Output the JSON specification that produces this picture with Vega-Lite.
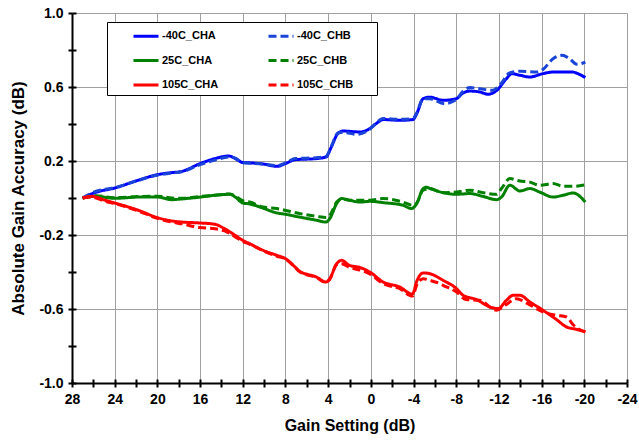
{
  "$schema": "https://vega.github.io/schema/vega-lite/v6.json",
  "width": 555,
  "height": 370,
  "autosize": {"type": "none"},
  "padding": {"left": 72, "top": 13, "right": 12, "bottom": 57},
  "background": "white",
  "config": {"view": {"stroke": null}, "font": "Liberation Sans"},
  "datasets": {
    "curves": [
      {"series": "-40C_CHA", "gain": 27, "accuracy": 0},
      {"series": "-40C_CHA", "gain": 25.8, "accuracy": 0.03},
      {"series": "-40C_CHA", "gain": 24, "accuracy": 0.054},
      {"series": "-40C_CHA", "gain": 21.8, "accuracy": 0.096},
      {"series": "-40C_CHA", "gain": 20, "accuracy": 0.126},
      {"series": "-40C_CHA", "gain": 18.7, "accuracy": 0.137},
      {"series": "-40C_CHA", "gain": 17.7, "accuracy": 0.144},
      {"series": "-40C_CHA", "gain": 16, "accuracy": 0.186},
      {"series": "-40C_CHA", "gain": 14.6, "accuracy": 0.213},
      {"series": "-40C_CHA", "gain": 13.3, "accuracy": 0.227},
      {"series": "-40C_CHA", "gain": 12.7, "accuracy": 0.213},
      {"series": "-40C_CHA", "gain": 12, "accuracy": 0.192},
      {"series": "-40C_CHA", "gain": 11.35, "accuracy": 0.19},
      {"series": "-40C_CHA", "gain": 10.1, "accuracy": 0.184},
      {"series": "-40C_CHA", "gain": 8.8, "accuracy": 0.171},
      {"series": "-40C_CHA", "gain": 8, "accuracy": 0.186},
      {"series": "-40C_CHA", "gain": 7.1, "accuracy": 0.207},
      {"series": "-40C_CHA", "gain": 5.1, "accuracy": 0.213},
      {"series": "-40C_CHA", "gain": 4.2, "accuracy": 0.222},
      {"series": "-40C_CHA", "gain": 3.7, "accuracy": 0.276},
      {"series": "-40C_CHA", "gain": 3.1, "accuracy": 0.348},
      {"series": "-40C_CHA", "gain": 2.6, "accuracy": 0.362},
      {"series": "-40C_CHA", "gain": 1.0, "accuracy": 0.357},
      {"series": "-40C_CHA", "gain": 0.1, "accuracy": 0.375},
      {"series": "-40C_CHA", "gain": -0.5, "accuracy": 0.402},
      {"series": "-40C_CHA", "gain": -1.15, "accuracy": 0.424},
      {"series": "-40C_CHA", "gain": -2.7, "accuracy": 0.42},
      {"series": "-40C_CHA", "gain": -3.95, "accuracy": 0.424},
      {"series": "-40C_CHA", "gain": -4.3, "accuracy": 0.456},
      {"series": "-40C_CHA", "gain": -4.9, "accuracy": 0.537},
      {"series": "-40C_CHA", "gain": -5.5, "accuracy": 0.545},
      {"series": "-40C_CHA", "gain": -6.8, "accuracy": 0.528},
      {"series": "-40C_CHA", "gain": -8.0, "accuracy": 0.537},
      {"series": "-40C_CHA", "gain": -8.65, "accuracy": 0.568},
      {"series": "-40C_CHA", "gain": -9.3, "accuracy": 0.578},
      {"series": "-40C_CHA", "gain": -10.2, "accuracy": 0.573},
      {"series": "-40C_CHA", "gain": -11, "accuracy": 0.561},
      {"series": "-40C_CHA", "gain": -11.8, "accuracy": 0.582},
      {"series": "-40C_CHA", "gain": -12.7, "accuracy": 0.645},
      {"series": "-40C_CHA", "gain": -13.2, "accuracy": 0.672},
      {"series": "-40C_CHA", "gain": -14, "accuracy": 0.663},
      {"series": "-40C_CHA", "gain": -14.9, "accuracy": 0.654},
      {"series": "-40C_CHA", "gain": -16.1, "accuracy": 0.672},
      {"series": "-40C_CHA", "gain": -17.1, "accuracy": 0.681},
      {"series": "-40C_CHA", "gain": -18.9, "accuracy": 0.681},
      {"series": "-40C_CHA", "gain": -19.4, "accuracy": 0.672},
      {"series": "-40C_CHA", "gain": -20.1, "accuracy": 0.651},

      {"series": "-40C_CHB", "gain": 27, "accuracy": 0},
      {"series": "-40C_CHB", "gain": 25.8, "accuracy": 0.035},
      {"series": "-40C_CHB", "gain": 24, "accuracy": 0.056},
      {"series": "-40C_CHB", "gain": 21.8, "accuracy": 0.095},
      {"series": "-40C_CHB", "gain": 20, "accuracy": 0.124},
      {"series": "-40C_CHB", "gain": 18.7, "accuracy": 0.135},
      {"series": "-40C_CHB", "gain": 17.7, "accuracy": 0.142},
      {"series": "-40C_CHB", "gain": 16, "accuracy": 0.18},
      {"series": "-40C_CHB", "gain": 14.6, "accuracy": 0.205},
      {"series": "-40C_CHB", "gain": 13.3, "accuracy": 0.222},
      {"series": "-40C_CHB", "gain": 12.7, "accuracy": 0.215},
      {"series": "-40C_CHB", "gain": 12, "accuracy": 0.19},
      {"series": "-40C_CHB", "gain": 11.35, "accuracy": 0.188},
      {"series": "-40C_CHB", "gain": 10.1, "accuracy": 0.184},
      {"series": "-40C_CHB", "gain": 8.8, "accuracy": 0.175},
      {"series": "-40C_CHB", "gain": 8, "accuracy": 0.19},
      {"series": "-40C_CHB", "gain": 7.1, "accuracy": 0.213},
      {"series": "-40C_CHB", "gain": 5.1, "accuracy": 0.218},
      {"series": "-40C_CHB", "gain": 4.2, "accuracy": 0.225},
      {"series": "-40C_CHB", "gain": 3.7, "accuracy": 0.28},
      {"series": "-40C_CHB", "gain": 3.1, "accuracy": 0.35},
      {"series": "-40C_CHB", "gain": 2.6, "accuracy": 0.355},
      {"series": "-40C_CHB", "gain": 1.3, "accuracy": 0.344},
      {"series": "-40C_CHB", "gain": 0.1, "accuracy": 0.372},
      {"series": "-40C_CHB", "gain": -0.5, "accuracy": 0.405},
      {"series": "-40C_CHB", "gain": -1.15, "accuracy": 0.43},
      {"series": "-40C_CHB", "gain": -2.7, "accuracy": 0.425},
      {"series": "-40C_CHB", "gain": -3.95, "accuracy": 0.43},
      {"series": "-40C_CHB", "gain": -4.3, "accuracy": 0.46},
      {"series": "-40C_CHB", "gain": -4.9, "accuracy": 0.535},
      {"series": "-40C_CHB", "gain": -5.5, "accuracy": 0.537},
      {"series": "-40C_CHB", "gain": -6.9, "accuracy": 0.51},
      {"series": "-40C_CHB", "gain": -8.0, "accuracy": 0.532},
      {"series": "-40C_CHB", "gain": -8.65, "accuracy": 0.578},
      {"series": "-40C_CHB", "gain": -9.3, "accuracy": 0.597},
      {"series": "-40C_CHB", "gain": -10.2, "accuracy": 0.591},
      {"series": "-40C_CHB", "gain": -11.4, "accuracy": 0.582},
      {"series": "-40C_CHB", "gain": -12.2, "accuracy": 0.618},
      {"series": "-40C_CHB", "gain": -13, "accuracy": 0.676},
      {"series": "-40C_CHB", "gain": -14, "accuracy": 0.685},
      {"series": "-40C_CHB", "gain": -15.5, "accuracy": 0.681},
      {"series": "-40C_CHB", "gain": -16.1, "accuracy": 0.694},
      {"series": "-40C_CHB", "gain": -17.1, "accuracy": 0.754},
      {"series": "-40C_CHB", "gain": -17.9, "accuracy": 0.771},
      {"series": "-40C_CHB", "gain": -18.6, "accuracy": 0.754},
      {"series": "-40C_CHB", "gain": -19.3, "accuracy": 0.723},
      {"series": "-40C_CHB", "gain": -20.1, "accuracy": 0.735},

      {"series": "25C_CHA", "gain": 27, "accuracy": 0},
      {"series": "25C_CHA", "gain": 25.8, "accuracy": 0.009},
      {"series": "25C_CHA", "gain": 24, "accuracy": -0.002},
      {"series": "25C_CHA", "gain": 21.8, "accuracy": 0.005},
      {"series": "25C_CHA", "gain": 20, "accuracy": 0.005},
      {"series": "25C_CHA", "gain": 18.65, "accuracy": -0.009},
      {"series": "25C_CHA", "gain": 17.7, "accuracy": -0.005},
      {"series": "25C_CHA", "gain": 16, "accuracy": 0.005},
      {"series": "25C_CHA", "gain": 14.6, "accuracy": 0.015},
      {"series": "25C_CHA", "gain": 13.2, "accuracy": 0.02},
      {"series": "25C_CHA", "gain": 12.7, "accuracy": 0.005},
      {"series": "25C_CHA", "gain": 12, "accuracy": -0.027},
      {"series": "25C_CHA", "gain": 11.35, "accuracy": -0.032},
      {"series": "25C_CHA", "gain": 10.1, "accuracy": -0.055},
      {"series": "25C_CHA", "gain": 8.8, "accuracy": -0.081},
      {"series": "25C_CHA", "gain": 8, "accuracy": -0.088},
      {"series": "25C_CHA", "gain": 6.7, "accuracy": -0.103},
      {"series": "25C_CHA", "gain": 5.1, "accuracy": -0.12},
      {"series": "25C_CHA", "gain": 4.2, "accuracy": -0.13},
      {"series": "25C_CHA", "gain": 3.85, "accuracy": -0.111},
      {"series": "25C_CHA", "gain": 3.2, "accuracy": -0.03},
      {"series": "25C_CHA", "gain": 2.75, "accuracy": -0.003},
      {"series": "25C_CHA", "gain": 2, "accuracy": -0.012},
      {"series": "25C_CHA", "gain": 1.0, "accuracy": -0.022},
      {"series": "25C_CHA", "gain": 0.1, "accuracy": -0.018},
      {"series": "25C_CHA", "gain": -1.15, "accuracy": -0.025},
      {"series": "25C_CHA", "gain": -3.0, "accuracy": -0.039},
      {"series": "25C_CHA", "gain": -3.8, "accuracy": -0.057},
      {"series": "25C_CHA", "gain": -4.3, "accuracy": -0.03},
      {"series": "25C_CHA", "gain": -4.9, "accuracy": 0.051},
      {"series": "25C_CHA", "gain": -5.2, "accuracy": 0.058},
      {"series": "25C_CHA", "gain": -5.6, "accuracy": 0.05},
      {"series": "25C_CHA", "gain": -6.77, "accuracy": 0.029},
      {"series": "25C_CHA", "gain": -8.03, "accuracy": 0.02},
      {"series": "25C_CHA", "gain": -9.27, "accuracy": 0.024},
      {"series": "25C_CHA", "gain": -10.5, "accuracy": 0.009},
      {"series": "25C_CHA", "gain": -11.77, "accuracy": -0.009},
      {"series": "25C_CHA", "gain": -12.24, "accuracy": 0.005},
      {"series": "25C_CHA", "gain": -13.02, "accuracy": 0.069},
      {"series": "25C_CHA", "gain": -13.96, "accuracy": 0.038},
      {"series": "25C_CHA", "gain": -14.9, "accuracy": 0.051},
      {"series": "25C_CHA", "gain": -15.83, "accuracy": 0.032},
      {"series": "25C_CHA", "gain": -17.08, "accuracy": 0.005},
      {"series": "25C_CHA", "gain": -18.02, "accuracy": 0.015},
      {"series": "25C_CHA", "gain": -18.95, "accuracy": 0.027},
      {"series": "25C_CHA", "gain": -20.1, "accuracy": -0.022},

      {"series": "25C_CHB", "gain": 27, "accuracy": 0},
      {"series": "25C_CHB", "gain": 25.8, "accuracy": 0.012},
      {"series": "25C_CHB", "gain": 24, "accuracy": 0.002},
      {"series": "25C_CHB", "gain": 21.8, "accuracy": 0.008},
      {"series": "25C_CHB", "gain": 20, "accuracy": 0.01},
      {"series": "25C_CHB", "gain": 18.65, "accuracy": 0.0},
      {"series": "25C_CHB", "gain": 17.7, "accuracy": -0.002},
      {"series": "25C_CHB", "gain": 16, "accuracy": 0.008},
      {"series": "25C_CHB", "gain": 14.6, "accuracy": 0.015},
      {"series": "25C_CHB", "gain": 13.2, "accuracy": 0.022},
      {"series": "25C_CHB", "gain": 12.7, "accuracy": 0.01},
      {"series": "25C_CHB", "gain": 12, "accuracy": -0.015},
      {"series": "25C_CHB", "gain": 11.35, "accuracy": -0.022},
      {"series": "25C_CHB", "gain": 10.1, "accuracy": -0.049},
      {"series": "25C_CHB", "gain": 8.8, "accuracy": -0.057},
      {"series": "25C_CHB", "gain": 6.7, "accuracy": -0.084},
      {"series": "25C_CHB", "gain": 5.1, "accuracy": -0.099},
      {"series": "25C_CHB", "gain": 4.2, "accuracy": -0.106},
      {"series": "25C_CHB", "gain": 3.85, "accuracy": -0.094},
      {"series": "25C_CHB", "gain": 3.2, "accuracy": -0.022},
      {"series": "25C_CHB", "gain": 2.75, "accuracy": -0.005},
      {"series": "25C_CHB", "gain": 2, "accuracy": -0.012},
      {"series": "25C_CHB", "gain": 0.1, "accuracy": -0.012},
      {"series": "25C_CHB", "gain": -1.15, "accuracy": -0.003},
      {"series": "25C_CHB", "gain": -3.0, "accuracy": -0.022},
      {"series": "25C_CHB", "gain": -3.9, "accuracy": -0.039},
      {"series": "25C_CHB", "gain": -4.3, "accuracy": -0.027},
      {"series": "25C_CHB", "gain": -4.9, "accuracy": 0.042},
      {"series": "25C_CHB", "gain": -5.52, "accuracy": 0.051},
      {"series": "25C_CHB", "gain": -6.77, "accuracy": 0.029},
      {"series": "25C_CHB", "gain": -8.03, "accuracy": 0.032},
      {"series": "25C_CHB", "gain": -9.27, "accuracy": 0.042},
      {"series": "25C_CHB", "gain": -10.5, "accuracy": 0.029},
      {"series": "25C_CHB", "gain": -11.77, "accuracy": 0.02},
      {"series": "25C_CHB", "gain": -12.24, "accuracy": 0.051},
      {"series": "25C_CHB", "gain": -13.02, "accuracy": 0.105},
      {"series": "25C_CHB", "gain": -13.96, "accuracy": 0.092},
      {"series": "25C_CHB", "gain": -14.9, "accuracy": 0.086},
      {"series": "25C_CHB", "gain": -15.8, "accuracy": 0.069},
      {"series": "25C_CHB", "gain": -17.08, "accuracy": 0.078},
      {"series": "25C_CHB", "gain": -18.02, "accuracy": 0.063},
      {"series": "25C_CHB", "gain": -18.95, "accuracy": 0.063},
      {"series": "25C_CHB", "gain": -20.1, "accuracy": 0.072},

      {"series": "105C_CHA", "gain": 27, "accuracy": 0},
      {"series": "105C_CHA", "gain": 26.15, "accuracy": 0.009},
      {"series": "105C_CHA", "gain": 24.9, "accuracy": -0.012},
      {"series": "105C_CHA", "gain": 24, "accuracy": -0.027},
      {"series": "105C_CHA", "gain": 21.8, "accuracy": -0.066},
      {"series": "105C_CHA", "gain": 20, "accuracy": -0.106},
      {"series": "105C_CHA", "gain": 18.65, "accuracy": -0.124},
      {"series": "105C_CHA", "gain": 17.7, "accuracy": -0.13},
      {"series": "105C_CHA", "gain": 16, "accuracy": -0.135},
      {"series": "105C_CHA", "gain": 14.6, "accuracy": -0.142},
      {"series": "105C_CHA", "gain": 13.7, "accuracy": -0.166},
      {"series": "105C_CHA", "gain": 12.7, "accuracy": -0.202},
      {"series": "105C_CHA", "gain": 12, "accuracy": -0.229},
      {"series": "105C_CHA", "gain": 11.35, "accuracy": -0.247},
      {"series": "105C_CHA", "gain": 10.1, "accuracy": -0.283},
      {"series": "105C_CHA", "gain": 8.8, "accuracy": -0.31},
      {"series": "105C_CHA", "gain": 8, "accuracy": -0.328},
      {"series": "105C_CHA", "gain": 7.1, "accuracy": -0.373},
      {"series": "105C_CHA", "gain": 6.7, "accuracy": -0.395},
      {"series": "105C_CHA", "gain": 5.1, "accuracy": -0.427},
      {"series": "105C_CHA", "gain": 4.2, "accuracy": -0.454},
      {"series": "105C_CHA", "gain": 3.85, "accuracy": -0.436},
      {"series": "105C_CHA", "gain": 3.2, "accuracy": -0.355},
      {"series": "105C_CHA", "gain": 2.75, "accuracy": -0.337},
      {"series": "105C_CHA", "gain": 2, "accuracy": -0.364},
      {"series": "105C_CHA", "gain": 1.0, "accuracy": -0.376},
      {"series": "105C_CHA", "gain": 0.1, "accuracy": -0.4},
      {"series": "105C_CHA", "gain": -1.15, "accuracy": -0.454},
      {"series": "105C_CHA", "gain": -2.7, "accuracy": -0.481},
      {"series": "105C_CHA", "gain": -3.9, "accuracy": -0.52},
      {"series": "105C_CHA", "gain": -4.3, "accuracy": -0.45},
      {"series": "105C_CHA", "gain": -4.9, "accuracy": -0.405},
      {"series": "105C_CHA", "gain": -5.52, "accuracy": -0.409},
      {"series": "105C_CHA", "gain": -6.77, "accuracy": -0.445},
      {"series": "105C_CHA", "gain": -8.03, "accuracy": -0.49},
      {"series": "105C_CHA", "gain": -8.65, "accuracy": -0.526},
      {"series": "105C_CHA", "gain": -9.9, "accuracy": -0.549},
      {"series": "105C_CHA", "gain": -11.15, "accuracy": -0.589},
      {"series": "105C_CHA", "gain": -11.93, "accuracy": -0.598},
      {"series": "105C_CHA", "gain": -12.7, "accuracy": -0.553},
      {"series": "105C_CHA", "gain": -13.33, "accuracy": -0.526},
      {"series": "105C_CHA", "gain": -13.96, "accuracy": -0.526},
      {"series": "105C_CHA", "gain": -14.9, "accuracy": -0.562},
      {"series": "105C_CHA", "gain": -16.14, "accuracy": -0.607},
      {"series": "105C_CHA", "gain": -17.39, "accuracy": -0.657},
      {"series": "105C_CHA", "gain": -18.33, "accuracy": -0.697},
      {"series": "105C_CHA", "gain": -19.27, "accuracy": -0.71},
      {"series": "105C_CHA", "gain": -20.1, "accuracy": -0.724},

      {"series": "105C_CHB", "gain": 27, "accuracy": 0},
      {"series": "105C_CHB", "gain": 26.15, "accuracy": 0.005},
      {"series": "105C_CHB", "gain": 24.9, "accuracy": -0.018},
      {"series": "105C_CHB", "gain": 24, "accuracy": -0.03},
      {"series": "105C_CHB", "gain": 21.8, "accuracy": -0.07},
      {"series": "105C_CHB", "gain": 20, "accuracy": -0.11},
      {"series": "105C_CHB", "gain": 18.65, "accuracy": -0.13},
      {"series": "105C_CHB", "gain": 17.7, "accuracy": -0.14},
      {"series": "105C_CHB", "gain": 16, "accuracy": -0.16},
      {"series": "105C_CHB", "gain": 14.6, "accuracy": -0.166},
      {"series": "105C_CHB", "gain": 13.7, "accuracy": -0.178},
      {"series": "105C_CHB", "gain": 12.7, "accuracy": -0.21},
      {"series": "105C_CHB", "gain": 12, "accuracy": -0.235},
      {"series": "105C_CHB", "gain": 11.35, "accuracy": -0.25},
      {"series": "105C_CHB", "gain": 10.1, "accuracy": -0.285},
      {"series": "105C_CHB", "gain": 8.8, "accuracy": -0.315},
      {"series": "105C_CHB", "gain": 8, "accuracy": -0.33},
      {"series": "105C_CHB", "gain": 7.1, "accuracy": -0.375},
      {"series": "105C_CHB", "gain": 6.7, "accuracy": -0.398},
      {"series": "105C_CHB", "gain": 5.1, "accuracy": -0.43},
      {"series": "105C_CHB", "gain": 4.2, "accuracy": -0.456},
      {"series": "105C_CHB", "gain": 3.85, "accuracy": -0.44},
      {"series": "105C_CHB", "gain": 3.2, "accuracy": -0.36},
      {"series": "105C_CHB", "gain": 2.75, "accuracy": -0.355},
      {"series": "105C_CHB", "gain": 2, "accuracy": -0.375},
      {"series": "105C_CHB", "gain": 1.0, "accuracy": -0.39},
      {"series": "105C_CHB", "gain": 0.1, "accuracy": -0.41},
      {"series": "105C_CHB", "gain": -1.15, "accuracy": -0.463},
      {"series": "105C_CHB", "gain": -2.7, "accuracy": -0.49},
      {"series": "105C_CHB", "gain": -3.9, "accuracy": -0.53},
      {"series": "105C_CHB", "gain": -4.3, "accuracy": -0.47},
      {"series": "105C_CHB", "gain": -4.9, "accuracy": -0.436},
      {"series": "105C_CHB", "gain": -5.52, "accuracy": -0.445},
      {"series": "105C_CHB", "gain": -6.46, "accuracy": -0.463},
      {"series": "105C_CHB", "gain": -6.77, "accuracy": -0.472},
      {"series": "105C_CHB", "gain": -8.03, "accuracy": -0.508},
      {"series": "105C_CHB", "gain": -8.9, "accuracy": -0.549},
      {"series": "105C_CHB", "gain": -10.2, "accuracy": -0.553},
      {"series": "105C_CHB", "gain": -11.77, "accuracy": -0.607},
      {"series": "105C_CHB", "gain": -12.7, "accuracy": -0.575},
      {"series": "105C_CHB", "gain": -13.65, "accuracy": -0.544},
      {"series": "105C_CHB", "gain": -14.6, "accuracy": -0.568},
      {"series": "105C_CHB", "gain": -16.14, "accuracy": -0.616},
      {"series": "105C_CHB", "gain": -17.39, "accuracy": -0.634},
      {"series": "105C_CHB", "gain": -18.33, "accuracy": -0.643},
      {"series": "105C_CHB", "gain": -19, "accuracy": -0.688},
      {"series": "105C_CHB", "gain": -20.1, "accuracy": -0.724}
    ]
  },
  "data": {"name": "curves"},
  "layer": [
    {
      "mark": {"type": "line", "strokeWidth": 3, "interpolate": "monotone"},
      "encoding": {
        "x": {
          "field": "gain", "type": "quantitative",
          "scale": {"domain": [-24, 28], "reverse": true, "nice": false, "zero": false},
          "axis": {
            "orient": "bottom",
            "values": [-24, -22, -20, -18, -16, -14, -12, -10, -8, -6, -4, -2, 0, 2, 4, 6, 8, 10, 12, 14, 16, 18, 20, 22, 24, 26, 28],
            "labelExpr": "datum.value % 4 == 0 ? replace(datum.label, '\u2212', '-') : ''",
            "labelFont": "Liberation Sans", "labelFontWeight": "bold", "labelFontSize": 14, "labelColor": "black",
            "labelPadding": 5, "labelOverlap": false, "labelFlush": false,
            "grid": true, "gridColor": "#a0a0a0", "gridWidth": 1,
            "gridOpacity": {"condition": {"test": "datum.value % 4 == 0", "value": 1}, "value": 0},
            "domainColor": "black", "domainWidth": 2,
            "ticks": true, "tickSize": 4, "tickColor": "black", "tickWidth": 2,
            "title": "Gain Setting (dB)",
            "titleFont": "Liberation Sans", "titleFontWeight": "bold", "titleFontSize": 16, "titleColor": "black",
            "titleY": 42, "titleBaseline": "middle"
          }
        },
        "y": {
          "field": "accuracy", "type": "quantitative",
          "scale": {"domain": [-1, 1], "nice": false, "zero": false},
          "axis": {
            "orient": "left",
            "values": [-1, -0.8, -0.6, -0.4, -0.2, 0, 0.2, 0.4, 0.6, 0.8, 1],
            "format": ".1f",
            "labelExpr": "abs(round(datum.value * 10)) % 4 == 2 ? replace(datum.label, '\u2212', '-') : ''",
            "labelFont": "Liberation Sans", "labelFontWeight": "bold", "labelFontSize": 14, "labelColor": "black",
            "labelPadding": 5, "labelOverlap": false, "labelFlush": false,
            "grid": true, "gridColor": "#a0a0a0", "gridWidth": 1,
            "gridOpacity": {"condition": {"test": "abs(round(datum.value * 10)) % 4 == 2", "value": 1}, "value": 0},
            "domainColor": "black", "domainWidth": 2,
            "ticks": true, "tickSize": 4, "tickColor": "black", "tickWidth": 2,
            "title": "Absolute Gain Accuracy (dB)",
            "titleFont": "Liberation Sans", "titleFontWeight": "bold", "titleFontSize": 17, "titleColor": "black",
            "titleX": -54, "titleY": 185, "titleAngle": -90, "titleBaseline": "middle", "titleAlign": "center"
          }
        },
        "color": {
          "field": "series", "type": "nominal",
          "scale": {
            "domain": ["-40C_CHA", "25C_CHA", "105C_CHA", "-40C_CHB", "25C_CHB", "105C_CHB"],
            "range": ["#0000ff", "#008000", "#ff0000", "#1a44d8", "#008000", "#ff0000"]
          },
          "legend": {
            "orient": "none", "legendX": 35, "legendY": 9, "columns": 2, "title": null,
            "strokeColor": "black", "fillColor": "white", "padding": 0,
            "symbolType": "M-1,-0.3M9.16,0.3M1,0H3", "symbolSize": 625, "symbolStrokeWidth": 3,
            "labelFont": "Liberation Sans", "labelFontWeight": "bold", "labelFontSize": 11, "labelColor": "black",
            "labelOffset": 27, "rowPadding": 0.5, "columnPadding": -40, "labelLimit": 0
          }
        },
        "strokeDash": {
          "field": "series", "type": "nominal",
          "scale": {
            "domain": ["-40C_CHA", "25C_CHA", "105C_CHA", "-40C_CHB", "25C_CHB", "105C_CHB"],
            "range": [[1, 0], [1, 0], [1, 0], [8, 4], [8, 4], [8, 4]]
          },
          "legend": {
            "orient": "none", "legendX": 35, "legendY": 9, "columns": 2, "title": null,
            "strokeColor": "black", "fillColor": "white", "padding": 0,
            "symbolType": "M-1,-0.3M9.16,0.3M1,0H3", "symbolSize": 625, "symbolStrokeWidth": 3,
            "labelFont": "Liberation Sans", "labelFontWeight": "bold", "labelFontSize": 11, "labelColor": "black",
            "labelOffset": 27, "rowPadding": 0.5, "columnPadding": -40, "labelLimit": 0
          }
        }
      }
    },
    {
      "mark": {"type": "line", "opacity": 0},
      "encoding": {
        "x": {
          "field": "gain", "type": "quantitative",
          "scale": {"domain": [-24, 28], "reverse": true, "nice": false, "zero": false},
          "axis": {
            "orient": "bottom",
            "values": [-24, -22, -20, -18, -16, -14, -12, -10, -8, -6, -4, -2, 0, 2, 4, 6, 8, 10, 12, 14, 16, 18, 20, 22, 24, 26, 28],
            "labels": false, "domain": false, "grid": false, "title": null,
            "ticks": true, "tickSize": -4, "tickColor": "black", "tickWidth": 2
          }
        },
        "y": {
          "field": "accuracy", "type": "quantitative",
          "scale": {"domain": [-1, 1], "nice": false, "zero": false},
          "axis": {
            "orient": "left",
            "values": [-1, -0.8, -0.6, -0.4, -0.2, 0, 0.2, 0.4, 0.6, 0.8, 1],
            "labels": false, "domain": false, "grid": false, "title": null,
            "ticks": true, "tickSize": -4, "tickColor": "black", "tickWidth": 2
          }
        }
      }
    }
  ],
  "resolve": {"axis": {"x": "independent", "y": "independent"}}
}
